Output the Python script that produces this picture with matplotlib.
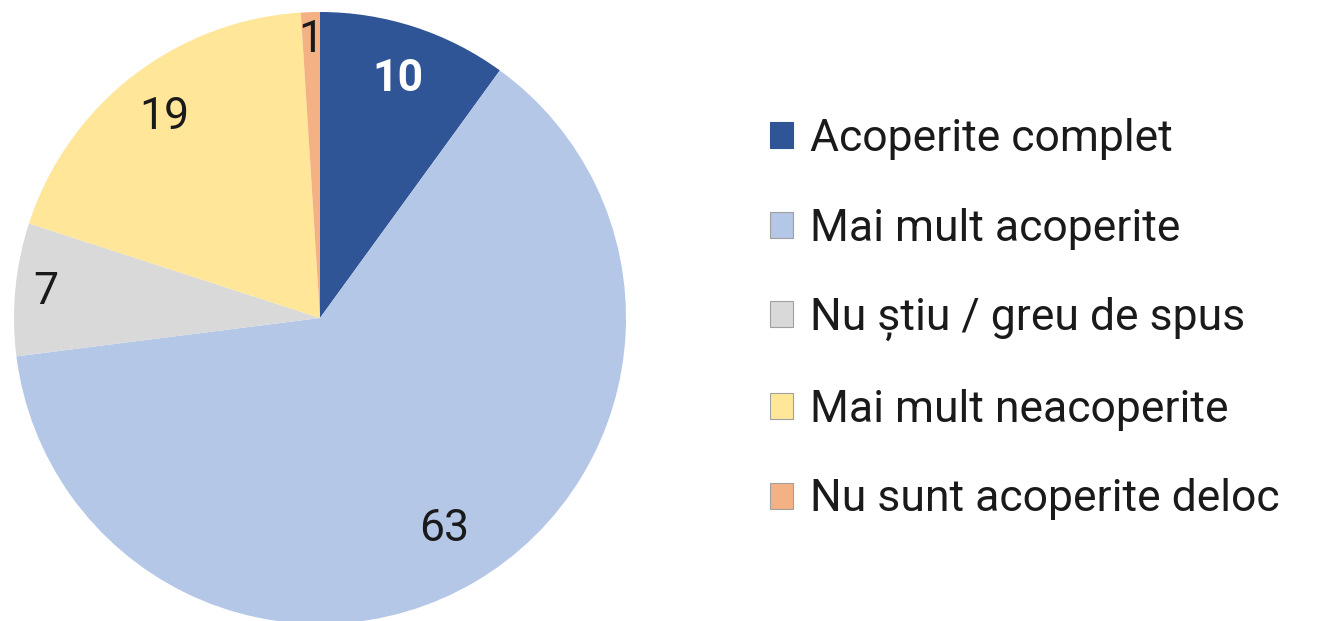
import numpy as np
import matplotlib.pyplot as plt
from matplotlib.patches import Patch

# Date
categorii = ["Acoperite complet", "Mai mult acoperite", "Nu știu / greu de spus",
             "Mai mult neacoperite", "Nu sunt acoperite deloc"]
valori = [10, 63, 7, 19, 1]
culori = ["#2F5597", "#B4C7E7", "#D9D9D9", "#FFE699", "#F4B183"]
culori_text = ["white", "#1a1a1a", "#1a1a1a", "#1a1a1a", "#1a1a1a"]
distante = [0.82, 0.80, 0.90, 0.83, 0.91]

plt.rcParams['font.family'] = ['Roboto', 'DejaVu Sans']

W, H = 1325, 621
fig = plt.figure(figsize=(W / 100, H / 100), dpi=100)
cx, cy, r = 320, 318, 306
ax = fig.add_axes([(cx - r) / W, (H - cy - r) / H, 2 * r / W, 2 * r / H])

wedges, _ = ax.pie(valori, colors=culori, startangle=90, counterclock=False,
                   radius=1, wedgeprops=dict(linewidth=0))
ax.set_xlim(-1, 1)
ax.set_ylim(-1, 1)
ax.set_aspect('equal')
ax.axis('off')

# Etichete valori
for i, w in enumerate(wedges):
    theta = np.deg2rad((w.theta1 + w.theta2) / 2)
    x = distante[i] * np.cos(theta)
    y = distante[i] * np.sin(theta)
    ax.text(x, y, str(valori[i]), ha='center', va='center', fontsize=32,
            color=culori_text[i], fontweight='bold' if i == 0 else 'normal')

# Legenda
handles = [Patch(facecolor=c, edgecolor='#a0a0a0' if i > 0 else c, linewidth=0.8)
           for i, c in enumerate(culori)]
leg = fig.legend(handles, categorii, loc='center left', bbox_to_anchor=(0.581, 0.486),
                 frameon=False, fontsize=32, handlelength=0.53, handleheight=0.53,
                 handletextpad=0.38, labelspacing=1.07, borderpad=0, borderaxespad=0,
                 labelcolor='#1a1a1a')

fig.savefig('out.png', dpi=100)
